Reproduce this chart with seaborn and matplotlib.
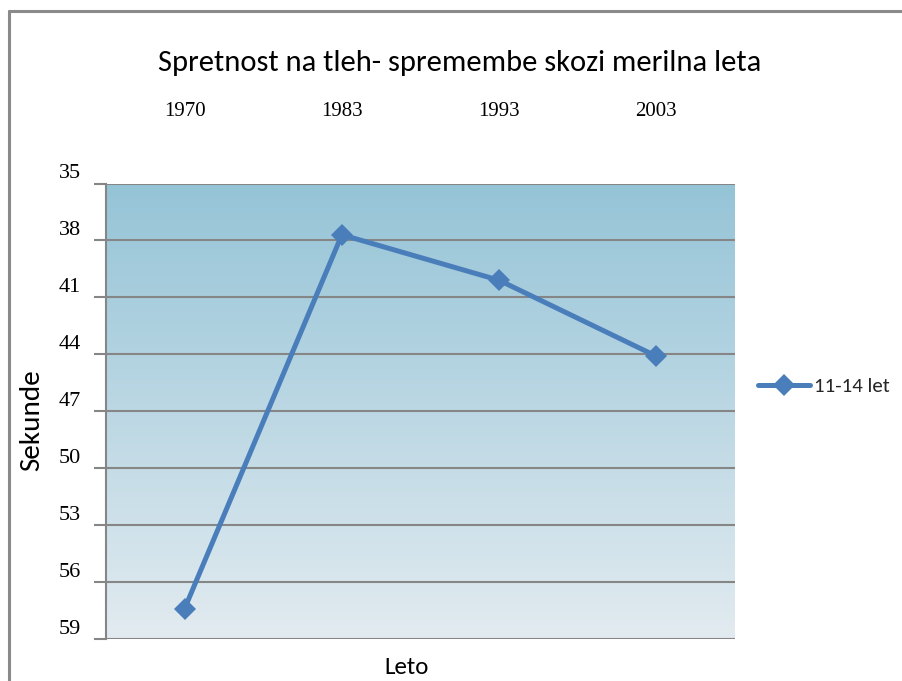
import numpy as np
import pandas as pd
import matplotlib
matplotlib.use("Agg")
import matplotlib.pyplot as plt
from matplotlib.lines import Line2D
from matplotlib.colors import LinearSegmentedColormap
import seaborn as sns

# Measurement years and mean times (seconds) for the 11-14 age group
years = ["1970", "1983", "1993", "2003"]
seconds = [57.4, 37.7, 40.1, 44.1]
series_name = "11-14 let"
y_ticks = [35, 38, 41, 44, 47, 50, 53, 56, 59]

title = "Spretnost na tleh- spremembe skozi merilna leta"
x_label = "Leto"
y_label = "Sekunde"

df = pd.DataFrame({"Leto": years, "Sekunde": seconds})

sns.set_theme(style="white")
sans = ["Carlito", "DejaVu Sans"]
serif = ["Liberation Serif", "DejaVu Serif"]

W, H = 903, 681
fig = plt.figure(figsize=(W / 100, H / 100), dpi=100)
fig.patch.set_facecolor("white")

left, right, top, bottom = 106, 735, 183.5, 639
ax = fig.add_axes([left / W, 1 - bottom / H, (right - left) / W, (bottom - top) / H])

# gradient plot background, darker blue at the top
cmap = LinearSegmentedColormap.from_list("bg", ["#e2ebf0", "#95c4d7"])
grad = np.linspace(0, 1, 256).reshape(-1, 1)
ax.imshow(grad, cmap=cmap, aspect="auto", origin="lower",
          extent=[0, 1, 0, 1], transform=ax.transAxes, zorder=0)

line_color = "#4a7ebb"
sns.lineplot(data=df, x="Leto", y="Sekunde", ax=ax, color=line_color,
             linewidth=3.6, marker="D", markersize=11.5, markeredgewidth=0,
             zorder=3, sort=False)

ax.set_xlim(-0.5, 3.5)
ax.set_ylim(59, 35)
ax.set_yticks(y_ticks)
ax.set_yticklabels([str(v) for v in y_ticks], family=serif, fontsize=16,
                   color="black", va="bottom")

for v in y_ticks:
    ax.axhline(v, color="#868686", linewidth=1.5, zorder=1)

ax.xaxis.tick_top()
ax.set_xticks(range(len(years)))
ax.set_xticklabels(years, family=serif, fontsize=15, color="black")
ax.tick_params(axis="x", length=0, pad=45)
ax.tick_params(axis="y", length=9, width=1.5, color="#868686", pad=9,
               direction="out", left=True)

for s in ["top", "right", "bottom"]:
    ax.spines[s].set_visible(False)
ax.spines["left"].set_color("#868686")
ax.spines["left"].set_linewidth(1.5)

ax.set_xlabel("")
ax.set_ylabel("")

fig.text(32 / W, 1 - 420 / H, y_label, rotation=90, ha="center", va="center",
         family=sans, fontsize=21, color="black")
fig.text(407 / W, 1 - 667 / H, x_label, ha="center", va="center",
         family=sans, fontsize=18, color="black")
fig.text(460 / W, 1 - 63 / H, title, ha="center", va="center",
         family=sans, fontsize=22, color="black")

handle = Line2D([], [], color=line_color, linewidth=3.6, marker="D",
                markersize=11.5, markeredgewidth=0)
fig.legend([handle], [series_name], loc="center left",
           bbox_to_anchor=(758 / W, 1 - 386 / H), frameon=False,
           prop={"family": sans, "size": 15}, handlelength=2.5,
           handletextpad=0.2, borderaxespad=0, borderpad=0)

# outer chart frame (left and top edges)
fig.add_artist(Line2D([9 / W, 9 / W], [0, 1 - 11 / H], color="#8a8a8a",
                      linewidth=2.2, transform=fig.transFigure))
fig.add_artist(Line2D([9 / W, 1], [1 - 11 / H, 1 - 11 / H], color="#8a8a8a",
                      linewidth=2.2, transform=fig.transFigure))

fig.savefig("out.png", dpi=100)
